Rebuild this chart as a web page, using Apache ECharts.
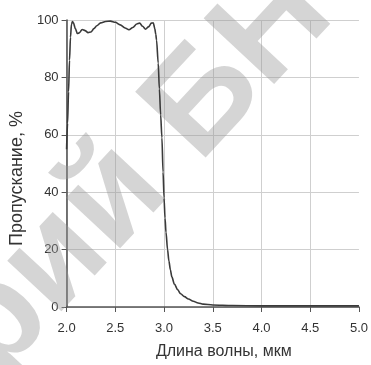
<!DOCTYPE html>
<html>
<head>
<meta charset="utf-8">
<script src="https://cdn.jsdelivr.net/npm/echarts@6/dist/echarts.min.js"></script>
<style>
html,body{margin:0;padding:0;background:#fff;}
#chart{width:371px;height:365px;}
</style>
</head>
<body>
<div id="chart"></div>
<script>
var wavelength = [2.00,2.01,2.02,2.03,2.04,2.05,2.06,2.07,2.09,2.11,2.13,2.16,2.19,2.22,2.25,2.28,2.31,2.35,2.40,2.45,2.50,2.55,2.60,2.64,2.68,2.72,2.75,2.78,2.81,2.84,2.87,2.89,2.905,2.915,2.923,2.94,2.952,2.965,2.978,2.99,3.00,3.01,3.02,3.036,3.05,3.065,3.08,3.106,3.14,3.17,3.21,3.25,3.30,3.35,3.40,3.50,3.70,4.00,4.50,5.00];
var transmission = [55,64,75,86,94,98.5,99.5,99,97,95.3,95.5,96.7,96.3,95.6,95.8,97,98,99,99.5,99.6,99.2,98.3,97.2,96.6,97.4,98.6,98.9,97.8,96.8,97.6,98.9,99,97,95,93,85,76,67,59,47,38,31,26,20,16,13,10.5,8,6,4.6,3.6,2.8,2,1.4,1,0.7,0.5,0.4,0.4,0.4];
var xTicks = [2.0,2.5,3.0,3.5,4.0,4.5,5.0];
var yTicks = [0,20,40,60,80,100];
var xTitle = 'Длина волны, мкм';
var yTitle = 'Пропускание, %';
var watermarkA = 'Репозиторий';
var watermarkB = 'БНТУ';

var data = wavelength.map(function(w,i){return [w, transmission[i]];});
var chart = echarts.init(document.getElementById('chart'), null, {renderer:'canvas'});
var font = '"Liberation Sans", Arial, sans-serif';
var ang = 47 * Math.PI / 180;
var wmFont = 'bold 140px "Liberation Sans", Arial, sans-serif';
var wmFill = 'rgba(150,150,150,0.4)';
var xGridColors = xTicks.map(function(t,i){return i === xTicks.length-1 ? 'rgba(0,0,0,0)' : '#cfcfcf';});
chart.setOption({
  animation:false,
  backgroundColor:'#fff',
  grid:{left:53, right:6, top:20, bottom:54},
  xAxis:{
    type:'value', min:xTicks[0], max:xTicks[xTicks.length-1], interval:0.5,
    name:xTitle, nameLocation:'middle', nameGap:37,
    nameTextStyle:{fontFamily:font, fontSize:16, color:'#333', padding:[0,0,0,22]},
    axisLine:{show:true, onZero:false, lineStyle:{color:'#555', width:1.6}},
    axisTick:{show:true, inside:false, length:5, lineStyle:{color:'#555'}},
    axisLabel:{fontFamily:font, fontSize:13, color:'#333', margin:15, formatter:function(v){return v.toFixed(1);}},
    splitLine:{show:true, lineStyle:{color:xGridColors, width:1}}
  },
  yAxis:{
    type:'value', min:yTicks[0], max:yTicks[yTicks.length-1], interval:20,
    name:yTitle, nameLocation:'middle', nameGap:34, nameRotate:90,
    nameTextStyle:{fontFamily:font, fontSize:18, color:'#333', padding:[0,30,0,0]},
    axisLine:{show:true, lineStyle:{color:'#555', width:1.6}},
    axisTick:{show:true, inside:false, length:5, lineStyle:{color:'#555'}},
    axisLabel:{fontFamily:font, fontSize:13, color:'#333', margin:8},
    splitLine:{show:true, lineStyle:{color:'#cfcfcf', width:1}}
  },
  graphic:[
    {type:'text', z:1, x:144, y:166, rotation:ang,
     style:{text:watermarkA, font:wmFont, fill:wmFill, textAlign:'right', textVerticalAlign:'middle'}},
    {type:'text', z:1, x:171, y:138, rotation:ang,
     style:{text:watermarkB, font:wmFont, fill:wmFill, textAlign:'left', textVerticalAlign:'middle'}}
  ],
  series:[{
    type:'line', data:data, showSymbol:false, smooth:0.3, smoothMonotone:'x',
    lineStyle:{color:'#3a3a3a', width:1.6}, z:3
  }]
});
</script>
</body>
</html>
